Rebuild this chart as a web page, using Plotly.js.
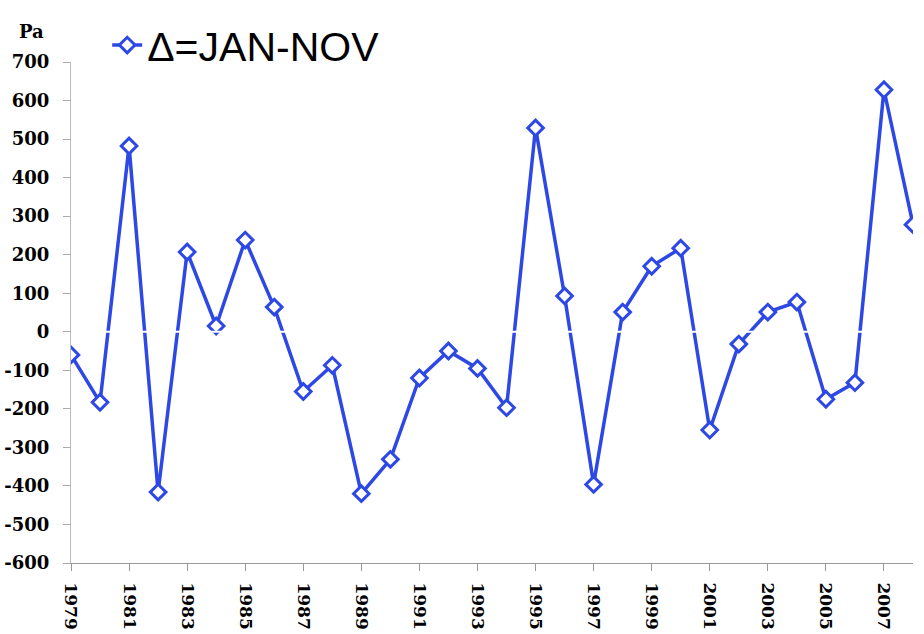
<!DOCTYPE html>
<html>
<head>
<meta charset="utf-8">
<script src="https://cdn.plot.ly/plotly-3.0.1.min.js"></script>
<style>html,body{margin:0;padding:0;background:#fff;}#chart{width:924px;height:634px;}</style>
</head>
<body>
<div id="chart"></div>
<script>
var years = [1979,1980,1981,1982,1983,1984,1985,1986,1987,1988,1989,1990,1991,1992,1993,1994,1995,1996,1997,1998,1999,2000,2001,2002,2003,2004,2005,2006,2007,2008];
var values = [-60,-183,482,-416,207,15,238,64,-155,-87,-420,-331,-120,-50,-95,-197,529,93,-396,51,170,217,-255,-32,51,77,-175,-132,628,278];
var tickYears = [1979,1981,1983,1985,1987,1989,1991,1993,1995,1997,1999,2001,2003,2005,2007];
var yTicks = [-600,-500,-400,-300,-200,-100,0,100,200,300,400,500,600,700];
var seriesName = 'Δ=JAN-NOV';
var blue = 'rgb(45,72,228)';
var serif = 'DejaVu Serif, Liberation Serif, serif';

var trace = {
  x: years, y: values, type: 'scatter', mode: 'lines+markers', name: seriesName,
  line: {color: blue, width: 3.5},
  marker: {symbol: 'diamond', size: 12, color: '#ffffff', line: {color: blue, width: 3}}
};

var layout = {
  width: 924, height: 634,
  margin: {l: 71, r: 11, t: 62, b: 71},
  paper_bgcolor: '#ffffff', plot_bgcolor: '#ffffff',
  showlegend: true,
  legend: {x: 0.043, y: 1.1, xanchor: 'left', yanchor: 'top',
           font: {family: 'Liberation Sans, Arial, sans-serif', size: 41, color: '#000000'},
           bgcolor: 'rgba(0,0,0,0)', itemwidth: 30},
  xaxis: {
    range: [1979, 2008], tickmode: 'array', tickvals: tickYears, ticktext: tickYears.map(String),
    tickangle: 90, ticks: 'outside', ticklen: 7, tickcolor: '#999999', tickwidth: 1, ticklabelstandoff: 8,
    showline: true, linecolor: '#999999', linewidth: 1, showgrid: false, zeroline: false,
    tickfont: {family: serif, size: 17, color: '#000000', weight: 'bold'}
  },
  yaxis: {
    range: [-600, 700], tickmode: 'array', tickvals: yTicks, ticktext: yTicks.map(String),
    ticks: 'outside', ticklen: 7, tickcolor: '#aaaaaa', tickwidth: 1, ticklabelstandoff: 10,
    showline: true, linecolor: '#bbbbbb', linewidth: 1, showgrid: false, zeroline: false,
    tickfont: {family: serif, size: 18, color: '#000000', weight: 'bold'}
  },
  shapes: [{type: 'line', xref: 'paper', yref: 'y', x0: 0.002, x1: 1, y0: 0, y1: 0,
            line: {color: '#ffffff', width: 2}, layer: 'above'}],
  annotations: [{text: '<b>Pa</b>', xref: 'paper', yref: 'paper', x: -40/842, y: 1 + 30/501,
                 xanchor: 'center', yanchor: 'middle', showarrow: false,
                 font: {family: serif, size: 18, color: '#000000'}}]
};

Plotly.newPlot('chart', [trace], layout, {displayModeBar: false, staticPlot: true});
</script>
</body>
</html>
